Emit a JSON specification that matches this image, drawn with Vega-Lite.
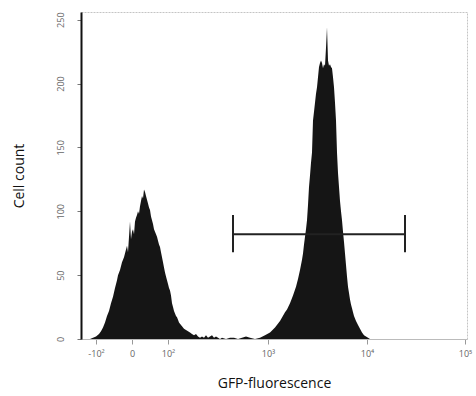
{
  "$schema": "https://vega.github.io/schema/vega-lite/v6.json",
  "width": 386,
  "height": 327,
  "autosize": {"type": "none"},
  "padding": {"left": 81, "top": 12, "right": 9, "bottom": 57},
  "background": "white",
  "config": {
    "font": "Open Sans",
    "view": {"stroke": "#c4c4c4", "strokeWidth": 1, "strokeDash": [2, 1]}
  },
  "datasets": {
    "hist": [
      {"channel": -51, "count": 0}, {"channel": -42, "count": 0}, {"channel": -39, "count": 1}, {"channel": -36, "count": 2},
      {"channel": -33, "count": 4}, {"channel": -31, "count": 6}, {"channel": -29, "count": 9}, {"channel": -27, "count": 13},
      {"channel": -25, "count": 18}, {"channel": -23, "count": 22}, {"channel": -21, "count": 28}, {"channel": -19, "count": 33},
      {"channel": -17, "count": 40}, {"channel": -15, "count": 46}, {"channel": -14, "count": 50}, {"channel": -12, "count": 54},
      {"channel": -10, "count": 60}, {"channel": -8, "count": 64}, {"channel": -6, "count": 70}, {"channel": -5, "count": 73},
      {"channel": -4, "count": 68}, {"channel": -3, "count": 80}, {"channel": -2, "count": 92}, {"channel": -1, "count": 78},
      {"channel": 0, "count": 84}, {"channel": 1, "count": 86}, {"channel": 2, "count": 82}, {"channel": 3, "count": 92},
      {"channel": 4, "count": 95}, {"channel": 5, "count": 97}, {"channel": 6, "count": 100}, {"channel": 7, "count": 98},
      {"channel": 8, "count": 104}, {"channel": 9, "count": 108}, {"channel": 10, "count": 112}, {"channel": 11, "count": 110},
      {"channel": 12, "count": 117}, {"channel": 13, "count": 115}, {"channel": 14, "count": 112}, {"channel": 15, "count": 109},
      {"channel": 16, "count": 106}, {"channel": 17, "count": 103}, {"channel": 18, "count": 101}, {"channel": 19, "count": 96},
      {"channel": 20, "count": 93}, {"channel": 21, "count": 90}, {"channel": 22, "count": 86}, {"channel": 23, "count": 84},
      {"channel": 24, "count": 82}, {"channel": 25, "count": 80}, {"channel": 26, "count": 77}, {"channel": 27, "count": 74},
      {"channel": 28, "count": 72}, {"channel": 29, "count": 68}, {"channel": 30, "count": 64}, {"channel": 31, "count": 60},
      {"channel": 32, "count": 56}, {"channel": 33, "count": 52}, {"channel": 34, "count": 49}, {"channel": 35, "count": 46},
      {"channel": 36, "count": 43}, {"channel": 37, "count": 40}, {"channel": 38, "count": 38}, {"channel": 39, "count": 34},
      {"channel": 40, "count": 28}, {"channel": 41, "count": 25}, {"channel": 42, "count": 22}, {"channel": 43, "count": 20},
      {"channel": 44, "count": 18}, {"channel": 45, "count": 17}, {"channel": 46, "count": 15}, {"channel": 47, "count": 13},
      {"channel": 48, "count": 12}, {"channel": 50, "count": 10}, {"channel": 52, "count": 8}, {"channel": 54, "count": 7},
      {"channel": 56, "count": 6}, {"channel": 58, "count": 5}, {"channel": 60, "count": 4}, {"channel": 62, "count": 3},
      {"channel": 64, "count": 4}, {"channel": 66, "count": 2}, {"channel": 68, "count": 1}, {"channel": 70, "count": 2},
      {"channel": 72, "count": 1}, {"channel": 74, "count": 3}, {"channel": 76, "count": 1}, {"channel": 78, "count": 2},
      {"channel": 80, "count": 3}, {"channel": 82, "count": 1}, {"channel": 84, "count": 2}, {"channel": 86, "count": 1},
      {"channel": 88, "count": 0}, {"channel": 90, "count": 1}, {"channel": 94, "count": 0}, {"channel": 98, "count": 1},
      {"channel": 102, "count": 1}, {"channel": 106, "count": 0}, {"channel": 110, "count": 1}, {"channel": 114, "count": 2},
      {"channel": 118, "count": 1}, {"channel": 123, "count": 0}, {"channel": 128, "count": 1}, {"channel": 133, "count": 3},
      {"channel": 138, "count": 5}, {"channel": 143, "count": 9}, {"channel": 148, "count": 14}, {"channel": 153, "count": 21},
      {"channel": 155, "count": 23}, {"channel": 158, "count": 28}, {"channel": 161, "count": 34}, {"channel": 164, "count": 41},
      {"channel": 166, "count": 47}, {"channel": 168, "count": 54}, {"channel": 170, "count": 62}, {"channel": 171, "count": 67},
      {"channel": 172, "count": 74}, {"channel": 173, "count": 80}, {"channel": 174, "count": 86}, {"channel": 175, "count": 93},
      {"channel": 176, "count": 105}, {"channel": 177, "count": 119}, {"channel": 178, "count": 128}, {"channel": 179, "count": 138},
      {"channel": 180, "count": 146}, {"channel": 181, "count": 171}, {"channel": 182, "count": 178}, {"channel": 183, "count": 185},
      {"channel": 184, "count": 192}, {"channel": 185, "count": 197}, {"channel": 186, "count": 205}, {"channel": 187, "count": 213},
      {"channel": 188, "count": 216}, {"channel": 189, "count": 218}, {"channel": 190, "count": 216}, {"channel": 191, "count": 212},
      {"channel": 192, "count": 215}, {"channel": 193, "count": 214}, {"channel": 194, "count": 228}, {"channel": 195, "count": 244},
      {"channel": 196, "count": 218}, {"channel": 197, "count": 214}, {"channel": 198, "count": 215}, {"channel": 199, "count": 213},
      {"channel": 200, "count": 212}, {"channel": 201, "count": 205}, {"channel": 202, "count": 197}, {"channel": 203, "count": 185},
      {"channel": 204, "count": 171}, {"channel": 205, "count": 146}, {"channel": 206, "count": 130}, {"channel": 207, "count": 119},
      {"channel": 208, "count": 108}, {"channel": 209, "count": 100}, {"channel": 210, "count": 93}, {"channel": 211, "count": 84},
      {"channel": 212, "count": 76}, {"channel": 213, "count": 67}, {"channel": 214, "count": 58}, {"channel": 215, "count": 49},
      {"channel": 216, "count": 41}, {"channel": 217, "count": 36}, {"channel": 218, "count": 31}, {"channel": 219, "count": 27},
      {"channel": 220, "count": 24}, {"channel": 221, "count": 21}, {"channel": 222, "count": 18}, {"channel": 224, "count": 14},
      {"channel": 226, "count": 11}, {"channel": 228, "count": 8}, {"channel": 230, "count": 5}, {"channel": 232, "count": 3},
      {"channel": 234, "count": 2}, {"channel": 236, "count": 1}, {"channel": 238, "count": 0}, {"channel": 335, "count": 0}
    ],
    "gate": [{"start": 101, "end": 273, "level": 82}],
    "gateEnds": [{"pos": 101, "low": 68, "high": 97}, {"pos": 273, "low": 68, "high": 97}]
  },
  "layer": [
    {
      "data": {"name": "hist"},
      "mark": {"type": "area", "color": "#151515", "interpolate": "linear"},
      "encoding": {
        "x": {
          "field": "channel", "type": "quantitative", "title": "GFP-fluorescence",
          "scale": {"domain": [-51, 335], "nice": false, "zero": false},
          "axis": {
            "values": [-36, 0, 36, 136, 235, 333],
            "labelExpr": "datum.value == -36 ? '-10²' : datum.value == 0 ? '0' : datum.value == 36 ? '10²' : datum.value == 136 ? '10³' : datum.value == 235 ? '10⁴' : '10⁵'",
            "grid": false, "domainColor": "#bbbbbb", "tickColor": "#999999", "tickSize": 5,
            "labelFontSize": 9, "labelColor": "#666666", "labelPadding": 5, "labelFlush": false,
            "titleFontSize": 14, "titleFontWeight": "normal", "titleColor": "#111111", "titlePadding": 18
          }
        },
        "y": {
          "field": "count", "type": "quantitative", "title": "Cell count",
          "scale": {"domain": [0, 256], "nice": false},
          "axis": {
            "values": [0, 50, 100, 150, 200, 250],
            "grid": false, "domainColor": "#111111", "domainWidth": 2, "tickColor": "#777777", "tickSize": 4,
            "labelAngle": -90, "labelAlign": "center", "labelBaseline": "bottom", "labelPadding": 12,
            "labelFontSize": 9, "labelColor": "#666666",
            "titleFontSize": 14, "titleFontWeight": "normal", "titleColor": "#111111", "titlePadding": 30
          }
        }
      }
    },
    {
      "data": {"name": "gate"},
      "mark": {"type": "rule", "color": "#222222", "strokeWidth": 2},
      "encoding": {
        "x": {"field": "start", "type": "quantitative", "title": "GFP-fluorescence"},
        "x2": {"field": "end"},
        "y": {"field": "level", "type": "quantitative", "title": "Cell count"}
      }
    },
    {
      "data": {"name": "gateEnds"},
      "mark": {"type": "rule", "color": "#222222", "strokeWidth": 2},
      "encoding": {
        "x": {"field": "pos", "type": "quantitative", "title": "GFP-fluorescence"},
        "y": {"field": "low", "type": "quantitative", "title": "Cell count"},
        "y2": {"field": "high"}
      }
    }
  ]
}
